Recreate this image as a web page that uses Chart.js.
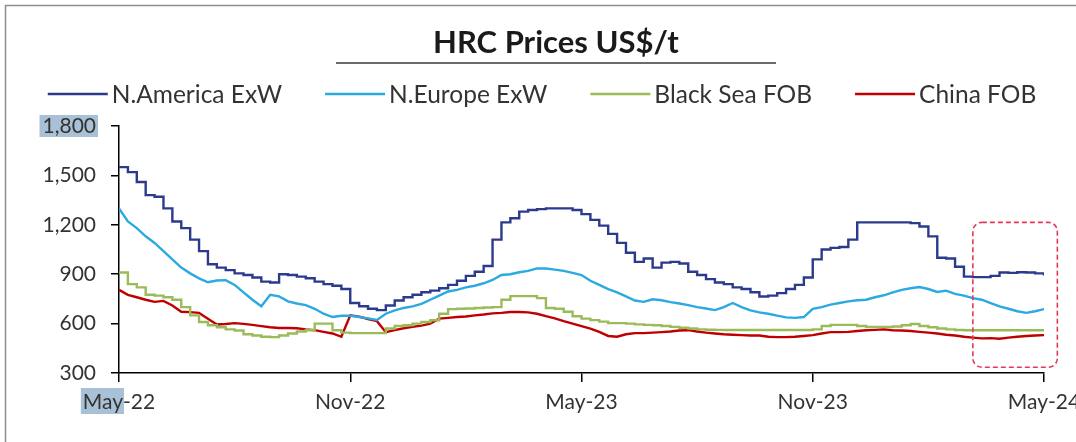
<!DOCTYPE html>
<html>
<head>
<meta charset="utf-8">
<title>HRC Prices US$/t</title>
<script src="https://cdn.jsdelivr.net/npm/chart.js@4.4.1/dist/chart.umd.min.js"></script>
<style>
  html, body { margin: 0; padding: 0; background: #fff; }
  #wrap { position: relative; width: 1076px; height: 442px; }
</style>
</head>
<body>
<div id="wrap"><canvas id="hrc"></canvas></div>
<script>
// Weekly HRC prices, US$/t, May-22 .. May-24 (105 weeks)
const naExw = [
  1550, 1520, 1460, 1380, 1370, 1300, 1220, 1180, 1110, 1040,
  960, 940, 925, 905, 895, 880, 855, 850, 900, 895,
  885, 875, 855, 840, 830, 810, 725, 705, 690, 682,
  710, 740, 760, 775, 790, 800, 815, 835, 860, 890,
  915, 950, 1110, 1215, 1240, 1280, 1290, 1295, 1300, 1300,
  1300, 1290, 1265, 1230, 1195, 1145, 1090, 1030, 975, 995,
  940, 970, 975, 965, 915, 895, 870, 850, 840, 820,
  810, 790, 765, 770, 785, 810, 835, 880, 990, 1050,
  1060, 1065, 1110, 1215, 1215, 1215, 1215, 1215, 1215, 1210,
  1190, 1130, 1000, 995, 945, 885, 882, 882, 890, 910,
  908, 912, 910, 905, 892
];
const neExw = [
  1300, 1220, 1180, 1130, 1090, 1040, 990, 940, 905, 875,
  851, 862, 864, 835, 790, 745, 705, 775, 765, 735,
  722, 712, 690, 660, 640, 648, 648, 640, 632, 622,
  660, 680, 695, 705, 720, 745, 770, 795, 805, 820,
  830, 845, 865, 895, 900, 912, 920, 935, 935, 928,
  920, 908, 895, 860, 835, 810, 790, 765, 740, 732,
  748, 742, 730, 722, 712, 700, 692, 682, 700, 725,
  700, 680, 668, 660, 648, 638, 635, 640, 690, 700,
  715, 725, 735, 742, 745, 760, 772, 790, 805, 815,
  822, 810, 792, 800, 780, 770, 755, 745, 725, 705,
  690, 675, 665, 675, 688
];
const bsFob = [
  910, 840, 820, 775, 770, 760, 745, 700, 650, 610,
  590, 578, 565, 558, 535, 528, 520, 518, 528, 540,
  552, 560, 600, 600, 560, 545, 542, 542, 542, 542,
  570, 585, 590, 600, 610, 620, 660, 688, 690, 692,
  695, 698, 700, 745, 767, 767, 767, 755, 695, 690,
  672, 645, 630, 621, 612, 603, 603, 600, 595, 592,
  590, 585, 580, 575, 570, 565, 563, 562, 561, 561,
  561, 561, 561, 561, 561, 561, 561, 561, 565, 585,
  592, 592, 592, 585, 580, 580, 580, 582, 590, 598,
  585, 578, 570, 565, 561, 560, 560, 560, 560, 560,
  560, 560, 560, 560, 560
];
const chinaFob = [
  805, 775, 760, 745, 732, 738, 710, 672, 670, 665,
  630, 595, 598, 603, 598, 592, 585, 578, 573, 573,
  572, 565, 560, 550, 540, 520, 650, 642, 628, 615,
  548, 560, 572, 580, 588, 600, 630, 635, 640, 643,
  650, 655, 662, 665, 670, 670, 668, 660, 645, 632,
  615, 600, 585, 570, 550, 525, 520, 535, 542, 542,
  545, 548, 552, 558, 560, 552, 545, 540, 535, 532,
  530, 528, 528, 520, 518, 518, 520, 525, 530, 540,
  548, 548, 550, 555, 560, 562, 565, 560, 558, 555,
  550, 545, 540, 532, 528, 520, 515, 510, 512, 508,
  515, 520, 525, 528, 530
];

const seriesNames = ['N.America ExW', 'N.Europe ExW', 'Black Sea FOB', 'China FOB'];
const xTickLabels = ['May-22', 'Nov-22', 'May-23', 'Nov-23', 'May-24'];
const yTicks = [300, 600, 900, 1200, 1500, 1800];
const weeks = naExw.map((_, i) => i);

// recent window marked with the dashed box (week index / price range)
const recentWindow = { from: 96, to: 105.5, high: 1215, low: 335 };

const FONT = 'Lato, "Open Sans", sans-serif';
const tickSize = 21;

const decor = {
  id: 'decor',
  beforeDraw(chart) {
    const { ctx, width, height } = chart;
    const x = chart.scales.x, y = chart.scales.y;
    ctx.save();
    ctx.fillStyle = '#fff';
    ctx.fillRect(0, 0, width, height);
    // outer frame
    ctx.strokeStyle = '#8e8e8e';
    ctx.lineWidth = 1.5;
    ctx.beginPath();
    ctx.moveTo(5.5, height);
    ctx.lineTo(5.5, 5.5);
    ctx.lineTo(width, 5.5);
    ctx.stroke();

    // highlighted bits of the top y label and first x label
    ctx.font = `${tickSize}px ${FONT}`;
    ctx.fillStyle = '#a8c1d6';
    const topLabel = y.ticks[y.ticks.length - 1].label;
    const tw = ctx.measureText(topLabel).width;
    const right = y.right - 8 - 15;
    const ty = y.getPixelForValue(yTicks[yTicks.length - 1]);
    ctx.fillRect(right - tw - 3, ty - 11, tw + 5, 22);
    const full = ctx.measureText(xTickLabels[0]).width;
    const part = ctx.measureText(xTickLabels[0].split('-')[0]).width;
    const x0 = x.getPixelForValue(0);
    const top = x.top + 9 + 8;
    ctx.fillRect(x0 - full / 2 - 2, top - 2, part + 3, 26);
    ctx.restore();
  },
  afterDatasetsDraw(chart) {
    const { ctx } = chart;
    const x = chart.scales.x, y = chart.scales.y;
    const l = x.getPixelForValue(recentWindow.from);
    const r = x.getPixelForValue(recentWindow.to);
    const t = y.getPixelForValue(recentWindow.high);
    const b = y.getPixelForValue(recentWindow.low);
    ctx.save();
    ctx.strokeStyle = '#e23a5e';
    ctx.lineWidth = 1.6;
    ctx.setLineDash([5, 3]);
    ctx.beginPath();
    ctx.roundRect(l, t, r - l, b - t, 9);
    ctx.stroke();
    ctx.restore();
  },
  afterDraw(chart) {
    const { ctx, width } = chart;
    ctx.save();
    // title with rule underneath
    const cx = width / 2 + 18;
    ctx.fillStyle = '#1a1a1a';
    ctx.font = `bold 31px ${FONT}`;
    ctx.textAlign = 'center';
    ctx.textBaseline = 'middle';
    ctx.fillText('HRC Prices US$/t', cx, 43);
    ctx.strokeStyle = '#3a3a3a';
    ctx.lineWidth = 1.5;
    ctx.beginPath();
    ctx.moveTo(cx - 220, 63);
    ctx.lineTo(cx + 220, 63);
    ctx.stroke();

    // legend row
    const sets = chart.data.datasets;
    ctx.font = `24.5px ${FONT}`;
    const sample = 60, gap = 4, spacing = 43;
    const widths = sets.map(d => sample + gap + ctx.measureText(d.label).width);
    const total = widths.reduce((a, b) => a + b, 0) + spacing * (sets.length - 1);
    let lx = (width - total) / 2 + 4;
    const ly = 94;
    ctx.textAlign = 'left';
    sets.forEach((d, i) => {
      ctx.strokeStyle = d.borderColor;
      ctx.lineWidth = 2.5;
      ctx.beginPath();
      ctx.moveTo(lx, ly);
      ctx.lineTo(lx + sample, ly);
      ctx.stroke();
      ctx.fillStyle = '#333';
      ctx.fillText(d.label, lx + sample + gap, ly + 1);
      lx += widths[i] + spacing;
    });
    ctx.restore();
  }
};

const ctx = document.getElementById('hrc').getContext('2d');
new Chart(ctx, {
  type: 'line',
  data: {
    labels: weeks,
    datasets: [
      { label: seriesNames[0], data: naExw, borderColor: '#2c3a8c', stepped: true },
      { label: seriesNames[1], data: neExw, borderColor: '#2aaae0' },
      { label: seriesNames[2], data: bsFob, borderColor: '#9bbb59', stepped: true },
      { label: seriesNames[3], data: chinaFob, borderColor: '#c00000' }
    ].map(d => Object.assign(d, { borderWidth: 2.4, pointRadius: 0, tension: 0, fill: false }))
  },
  options: {
    responsive: true,
    maintainAspectRatio: false,
    animation: false,
    layout: { padding: { top: 126, right: 32, bottom: 0, left: 0 } },
    plugins: { legend: { display: false }, title: { display: false }, tooltip: { enabled: false } },
    scales: {
      x: {
        type: 'linear',
        min: 0,
        max: weeks[weeks.length - 1],
        afterFit(s) { s.height = 69; s.paddingRight = 0; s.paddingLeft = 0; },
        afterBuildTicks(s) { s.ticks = xTickLabels.map((_, i) => ({ value: i * 26 })); },
        ticks: {
          callback: (v, i) => xTickLabels[i],
          font: { family: FONT, size: tickSize },
          color: '#333',
          padding: 8,
          maxRotation: 0,
          autoSkip: false
        },
        grid: { drawOnChartArea: false, tickLength: 9, color: '#000', lineWidth: 1.5 },
        border: { color: '#000', width: 1.5 }
      },
      y: {
        min: yTicks[0],
        max: yTicks[yTicks.length - 1],
        afterFit(s) { s.width = 119; },
        afterBuildTicks(s) { s.ticks = yTicks.map(v => ({ value: v })); },
        ticks: {
          font: { family: FONT, size: tickSize },
          color: '#333',
          padding: 15
        },
        grid: { drawOnChartArea: false, tickLength: 8, color: '#000', lineWidth: 1.5 },
        border: { color: '#000', width: 1.5 }
      }
    }
  },
  plugins: [decor]
});
</script>
</body>
</html>
